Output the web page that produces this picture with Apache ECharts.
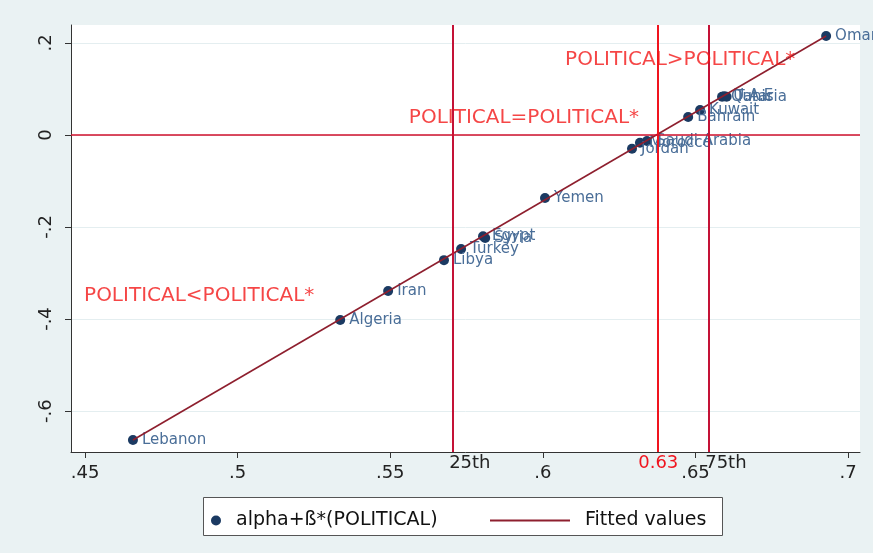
<!DOCTYPE html>
<html>
<head>
<meta charset="utf-8">
<script src="https://cdn.jsdelivr.net/npm/echarts@6/dist/echarts.min.js"></script>
<style>html,body{margin:0;padding:0;background:#eaf2f3;}#c{width:873px;height:553px;}</style>
</head>
<body>
<div id="c"></div>
<script>
// ---- data ----
const countries = ['Lebanon','Algeria','Iran','Libya','Turkey','Egypt','Syria','Yemen','Jordan','Morocco','Saudi Arabia','Bahrain','Kuwait','Qatar','U.A.E','Tunisia','Oman'];
const political = [0.4657,0.5336,0.5493,0.5676,0.5732,0.5804,0.5811,0.6007,0.6292,0.6318,0.6341,0.6476,0.6515,0.6587,0.6594,0.6602,0.6928];
const alphaBeta = [-0.663,-0.402,-0.339,-0.272,-0.248,-0.220,-0.224,-0.137,-0.030,-0.017,-0.013,0.039,0.054,0.083,0.084,0.083,0.215];
const fitX = [0.4657, 0.6928];
const fitY = [-0.663, 0.215];
const xTicks = [0.45,0.5,0.55,0.6,0.65,0.7];
const yTicks = [-0.6,-0.4,-0.2,0,0.2];
const refX = [0.5706, 0.6378, 0.6545];
const refLabels = ['25th','0.63','75th'];
const annotations = [
  [0.645, 0.163, 'POLITICAL>POLITICAL*'],
  [0.5938, 0.037, 'POLITICAL=POLITICAL*'],
  [0.4874, -0.350, 'POLITICAL<POLITICAL*']
];
const scatterName = 'alpha+ß*(POLITICAL)';
const fitName = 'Fitted values';

const FONT = 'DejaVu Sans';
const fmt = v => { if (Math.abs(v) < 1e-9) return '0'; return String(+v.toFixed(2)).replace('0.', '.'); };

const chart = echarts.init(document.getElementById('c'));
const refColors = ['#c41236', '#f0141e', '#c41236'];
const refTextColors = ['#222', '#f0141e', '#222'];
const refAlign = ['left', 'center', 'left'];

chart.setOption({
  backgroundColor: '#eaf2f3',
  animation: false,
  textStyle: { fontFamily: FONT },
  grid: { left: 71, right: 13, top: 25, bottom: 101, show: true, backgroundColor: '#ffffff', borderWidth: 0, containLabel: false, outerBoundsMode: 'none' },
  xAxis: {
    type: 'value', min: 0.4454, max: 0.7039,
    axisLine: { show: true, onZero: false, lineStyle: { color: '#333', width: 1 } },
    axisTick: { show: true, length: 6, customValues: xTicks, lineStyle: { color: '#333' } },
    axisLabel: { customValues: xTicks, formatter: fmt, fontSize: 18, color: '#222', margin: 12, fontFamily: FONT },
    splitLine: { show: false }
  },
  yAxis: {
    type: 'value', min: -0.689, max: 0.239,
    axisLine: { show: true, onZero: false, lineStyle: { color: '#333', width: 1 } },
    axisTick: { show: true, length: 6, customValues: yTicks, lineStyle: { color: '#333' } },
    axisLabel: { customValues: yTicks, formatter: fmt, fontSize: 18, color: '#222', rotate: 90, margin: 16, fontFamily: FONT },
    splitLine: { show: true, lineStyle: { color: '#e4eef0', width: 1 } }
  },
  graphic: [{
    type: 'rect', left: 203, top: 497, z: 0,
    shape: { width: 519, height: 38 },
    style: { fill: '#ffffff', stroke: '#555', lineWidth: 1 }
  }],
  legend: [
    { data: [{ name: scatterName, icon: 'circle' }], left: 206, top: 506, itemWidth: 30, itemHeight: 10, z: 5,
      textStyle: { fontSize: 19, color: '#111', fontFamily: FONT } },
    { data: [{ name: fitName, icon: 'rect' }], left: 485, top: 506, itemWidth: 80, itemHeight: 2, z: 5,
      itemStyle: { color: '#8e1f2e' },
      textStyle: { fontSize: 19, color: '#111', fontFamily: FONT, padding: [0, 0, 0, 10] } }
  ],
  series: [
    {
      name: 'refs', type: 'line', data: [], silent: true,
      markLine: {
        silent: true, symbol: 'none', animation: false, precision: 5,
        data: refX.map((x, i) => ({
          xAxis: x,
          lineStyle: { color: refColors[i], width: 2, type: 'solid' },
          label: { show: true, position: 'start', formatter: refLabels[i], color: refTextColors[i], fontSize: 18, fontFamily: FONT, distance: 2, align: refAlign[i], offset: [i === 1 ? 0 : -4, 0] }
        })).concat([{
          yAxis: 0,
          lineStyle: { color: '#d0102c', width: 1.5, type: 'solid' },
          label: { show: false }
        }])
      },
      z: 2
    },
    {
      name: scatterName, type: 'scatter',
      data: political.map((x, i) => [x, alphaBeta[i], countries[i]]),
      symbol: 'circle', symbolSize: 10,
      itemStyle: { color: '#1b3a62', opacity: 1 },
      label: { show: true, position: 'right', distance: 4, formatter: p => p.data[2], color: '#4a6e98', fontSize: 15, fontFamily: FONT },
      z: 3
    },
    {
      name: fitName, type: 'line', symbol: 'none', showSymbol: false,
      data: fitX.map((x, i) => [x, fitY[i]]),
      lineStyle: { color: '#8e1f2e', width: 1.6 },
      itemStyle: { color: '#8e1f2e' },
      z: 4
    },
    {
      name: 'annotations', type: 'scatter', symbolSize: 1, silent: true,
      data: annotations,
      itemStyle: { color: 'rgba(0,0,0,0)' },
      label: { show: true, position: 'inside', formatter: p => p.data[2], color: '#f21818', fontSize: 20, fontFamily: FONT },
      z: 5
    }
  ]
});
</script>
</body>
</html>
